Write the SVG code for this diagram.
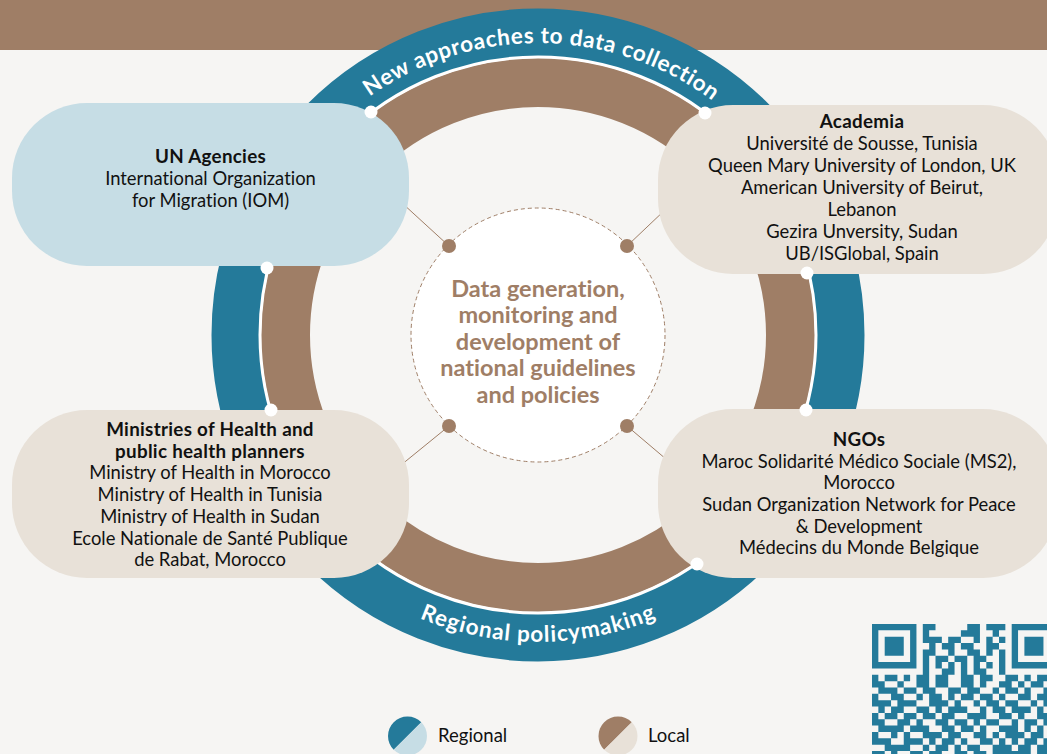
<svg xmlns="http://www.w3.org/2000/svg" width="1047" height="754" viewBox="0 0 1047 754">
<style>
text{font-variant-ligatures:none}
.t{font-family:Lato,"Liberation Sans",sans-serif;font-size:18.4px;fill:#111;text-anchor:middle}
.b{font-weight:bold;font-size:18.8px;letter-spacing:0.3px}
.ctr{font-family:Lato,"Liberation Sans",sans-serif;font-size:23.5px;font-weight:bold;fill:#9f7e66;text-anchor:middle}
.arc{font-family:Lato,"Liberation Sans",sans-serif;font-size:22.5px;font-weight:bold;fill:#fff}
.leg{font-family:Lato,"Liberation Sans",sans-serif;font-size:18.5px;fill:#111}
.con{stroke:#9f7e66;stroke-width:1;fill:none}
.hub{fill:#9f7e66}
.anc{fill:#fff}
</style>
<defs>
<path id="topArc" d="M246 335A292 292 0 0 1 830 335"/>
<path id="botArc" d="M231 335A307 307 0 0 0 845 335"/>
</defs>
<rect width="1047" height="754" fill="#f6f5f3"/>
<rect width="1047" height="50" fill="#9f7e66"/>
<g id="ring">
<circle cx="538" cy="335" r="302" fill="none" stroke="#247a9a" stroke-width="49"/>
<circle cx="538" cy="335" r="252.5" fill="none" stroke="#9f7e66" stroke-width="49"/>
<circle cx="538" cy="335" r="278" fill="none" stroke="#fff" stroke-width="3"/>
</g>
<g id="center">
<circle cx="538" cy="335" r="127" fill="#fff" stroke="#9f7e66" stroke-width="1" stroke-dasharray="4 3"/>
<text class="ctr" x="538" y="296.5">Data generation,</text>
<text class="ctr" x="538" y="323">monitoring and</text>
<text class="ctr" x="538" y="349.5">development of</text>
<text class="ctr" x="538" y="376">national guidelines</text>
<text class="ctr" x="538" y="402.5">and policies</text>
</g>
<g id="connectors">
<line class="con" x1="449" y1="246" x2="390" y2="192"/>
<line class="con" x1="627" y1="246" x2="686" y2="190"/>
<line class="con" x1="449" y1="426" x2="390" y2="474"/>
<line class="con" x1="627" y1="426" x2="686" y2="476"/>
<circle class="hub" cx="449" cy="246" r="7"/>
<circle class="hub" cx="627" cy="246" r="7"/>
<circle class="hub" cx="449" cy="426" r="7"/>
<circle class="hub" cx="627" cy="426" r="7"/>
</g>
<g id="un-agencies">
<rect x="12" y="103" width="397" height="163" rx="75" fill="#c6dde5"/>
<text class="t b" x="210.5" y="163">UN Agencies</text>
<text class="t" x="210.5" y="185">International Organization</text>
<text class="t" x="210.5" y="207">for Migration (IOM)</text>
</g>
<g id="academia">
<rect x="658" y="105" width="400" height="169" rx="75" fill="#e8e1d8"/>
<text class="t b" x="862" y="127.5">Academia</text>
<text class="t" x="862" y="150">Université de Sousse, Tunisia</text>
<text class="t" x="862" y="172">Queen Mary University of London, UK</text>
<text class="t" x="862" y="194">American University of Beirut,</text>
<text class="t" x="862" y="216">Lebanon</text>
<text class="t" x="862" y="238">Gezira Unversity, Sudan</text>
<text class="t" x="862" y="260">UB/ISGlobal, Spain</text>
</g>
<g id="ministries">
<rect x="12" y="410" width="397" height="168" rx="75" fill="#e8e1d8"/>
<text class="t b" x="210" y="436">Ministries of Health and</text>
<text class="t b" x="210" y="457.7">public health planners</text>
<text class="t" x="210" y="479.4">Ministry of Health in Morocco</text>
<text class="t" x="210" y="501.1">Ministry of Health in Tunisia</text>
<text class="t" x="210" y="522.8">Ministry of Health in Sudan</text>
<text class="t" x="210" y="544.5">Ecole Nationale de Santé Publique</text>
<text class="t" x="210" y="566.2">de Rabat, Morocco</text>
</g>
<g id="ngos">
<rect x="658" y="409" width="400" height="169" rx="75" fill="#e8e1d8"/>
<text class="t b" x="859" y="445.5">NGOs</text>
<text class="t" x="859" y="467.5">Maroc Solidarité Médico Sociale (MS2),</text>
<text class="t" x="859" y="489">Morocco</text>
<text class="t" x="859" y="511">Sudan Organization Network for Peace</text>
<text class="t" x="859" y="532.5">&amp; Development</text>
<text class="t" x="859" y="554">Médecins du Monde Belgique</text>
</g>
<g id="anchors">
<circle class="anc" cx="371" cy="112" r="6.5"/>
<circle class="anc" cx="705" cy="113" r="6.5"/>
<circle class="anc" cx="267" cy="268" r="6.5"/>
<circle class="anc" cx="271" cy="410" r="6.5"/>
<circle class="anc" cx="807" cy="273" r="6.5"/>
<circle class="anc" cx="806" cy="410" r="6.5"/>
<circle class="anc" cx="697" cy="564" r="6.5"/>
</g>
<g id="ring-labels">
<text class="arc"><textPath href="#topArc" startOffset="50.4%" text-anchor="middle" textLength="366" lengthAdjust="spacing">New approaches to data collection</textPath></text>
<text class="arc"><textPath href="#botArc" startOffset="50%" text-anchor="middle" textLength="243" lengthAdjust="spacing">Regional policymaking</textPath></text>
</g>
<g id="legend">
<path d="M393.71 749.79A19.5 19.5 0 0 1 421.29 722.21Z" fill="#247a9a"/>
<path d="M393.71 749.79A19.5 19.5 0 0 0 421.29 722.21Z" fill="#c6dde5"/>
<text class="leg" x="438" y="742">Regional</text>
<path d="M604.21 749.79A19.5 19.5 0 0 1 631.79 722.21Z" fill="#9f7e66"/>
<path d="M604.21 749.79A19.5 19.5 0 0 0 631.79 722.21Z" fill="#e8e1d8"/>
<text class="leg" x="648" y="742">Local</text>
</g>
<g id="qr" transform="translate(872 624) scale(6.35)" fill="#247a9a">
<path d="M0 0h7v1h-7zM8 0h2v1h-2zM15 0h2v1h-2zM18 0h3v1h-3zM22 0h7v1h-7zM0 1h1v1h-1zM6 1h1v1h-1zM8 1h1v1h-1zM14 1h3v1h-3zM19 1h1v1h-1zM22 1h1v1h-1zM28 1h1v1h-1zM0 2h1v1h-1zM2 2h3v1h-3zM6 2h1v1h-1zM8 2h3v1h-3zM12 2h2v1h-2zM16 2h1v1h-1zM18 2h1v1h-1zM20 2h1v1h-1zM22 2h1v1h-1zM24 2h3v1h-3zM28 2h1v1h-1zM0 3h1v1h-1zM2 3h3v1h-3zM6 3h1v1h-1zM9 3h1v1h-1zM11 3h2v1h-2zM14 3h2v1h-2zM18 3h2v1h-2zM22 3h1v1h-1zM24 3h3v1h-3zM28 3h1v1h-1zM0 4h1v1h-1zM2 4h3v1h-3zM6 4h1v1h-1zM8 4h2v1h-2zM12 4h1v1h-1zM15 4h2v1h-2zM18 4h1v1h-1zM20 4h1v1h-1zM22 4h1v1h-1zM24 4h3v1h-3zM28 4h1v1h-1zM0 5h1v1h-1zM6 5h1v1h-1zM8 5h1v1h-1zM10 5h2v1h-2zM13 5h2v1h-2zM16 5h2v1h-2zM20 5h1v1h-1zM22 5h1v1h-1zM28 5h1v1h-1zM0 6h7v1h-7zM8 6h1v1h-1zM10 6h1v1h-1zM12 6h1v1h-1zM14 6h1v1h-1zM16 6h1v1h-1zM18 6h1v1h-1zM20 6h1v1h-1zM22 6h7v1h-7zM8 7h1v1h-1zM11 7h2v1h-2zM14 7h1v1h-1zM16 7h2v1h-2zM20 7h1v1h-1zM0 8h1v1h-1zM2 8h2v1h-2zM5 8h1v1h-1zM7 8h2v1h-2zM10 8h2v1h-2zM14 8h2v1h-2zM17 8h2v1h-2zM21 8h2v1h-2zM24 8h1v1h-1zM26 8h2v1h-2zM0 9h2v1h-2zM4 9h1v1h-1zM7 9h2v1h-2zM10 9h2v1h-2zM14 9h2v1h-2zM17 9h1v1h-1zM20 9h2v1h-2zM23 9h1v1h-1zM25 9h2v1h-2zM28 9h1v1h-1zM1 10h3v1h-3zM5 10h2v1h-2zM8 10h2v1h-2zM12 10h2v1h-2zM15 10h2v1h-2zM19 10h1v1h-1zM21 10h2v1h-2zM24 10h1v1h-1zM27 10h1v1h-1zM0 11h1v1h-1zM3 11h2v1h-2zM7 11h1v1h-1zM9 11h2v1h-2zM12 11h1v1h-1zM14 11h2v1h-2zM17 11h2v1h-2zM20 11h1v1h-1zM23 11h2v1h-2zM26 11h3v1h-3zM0 12h3v1h-3zM4 12h3v1h-3zM9 12h3v1h-3zM13 12h1v1h-1zM16 12h1v1h-1zM18 12h2v1h-2zM21 12h2v1h-2zM25 12h1v1h-1zM27 12h1v1h-1zM1 13h1v1h-1zM3 13h2v1h-2zM7 13h2v1h-2zM10 13h1v1h-1zM12 13h3v1h-3zM17 13h1v1h-1zM19 13h2v1h-2zM22 13h3v1h-3zM26 13h1v1h-1zM28 13h1v1h-1zM0 14h1v1h-1zM2 14h2v1h-2zM5 14h2v1h-2zM8 14h2v1h-2zM11 14h2v1h-2zM15 14h3v1h-3zM20 14h2v1h-2zM23 14h1v1h-1zM26 14h2v1h-2zM0 15h2v1h-2zM4 15h2v1h-2zM7 15h1v1h-1zM10 15h2v1h-2zM13 15h2v1h-2zM16 15h1v1h-1zM18 15h2v1h-2zM22 15h1v1h-1zM24 15h2v1h-2zM27 15h2v1h-2zM1 16h4v1h-4zM6 16h3v1h-3zM11 16h2v1h-2zM14 16h2v1h-2zM17 16h1v1h-1zM20 16h3v1h-3zM24 16h1v1h-1zM26 16h1v1h-1zM0 17h1v1h-1zM3 17h1v1h-1zM5 17h1v1h-1zM8 17h3v1h-3zM12 17h2v1h-2zM16 17h2v1h-2zM19 17h1v1h-1zM21 17h3v1h-3zM25 17h2v1h-2zM28 17h1v1h-1zM0 18h3v1h-3zM5 18h3v1h-3zM9 18h1v1h-1zM11 18h2v1h-2zM14 18h1v1h-1zM17 18h2v1h-2zM20 18h1v1h-1zM22 18h1v1h-1zM24 18h2v1h-2zM27 18h1v1h-1zM2 19h4v1h-4zM8 19h1v1h-1zM10 19h2v1h-2zM13 19h1v1h-1zM15 19h2v1h-2zM19 19h3v1h-3zM23 19h2v1h-2zM26 19h3v1h-3zM0 20h2v1h-2zM3 20h1v1h-1zM6 20h2v1h-2zM9 20h2v1h-2zM13 20h2v1h-2zM16 20h2v1h-2zM19 20h6v1h-6zM26 20h2v1h-2z"/>
</g>
</svg>
